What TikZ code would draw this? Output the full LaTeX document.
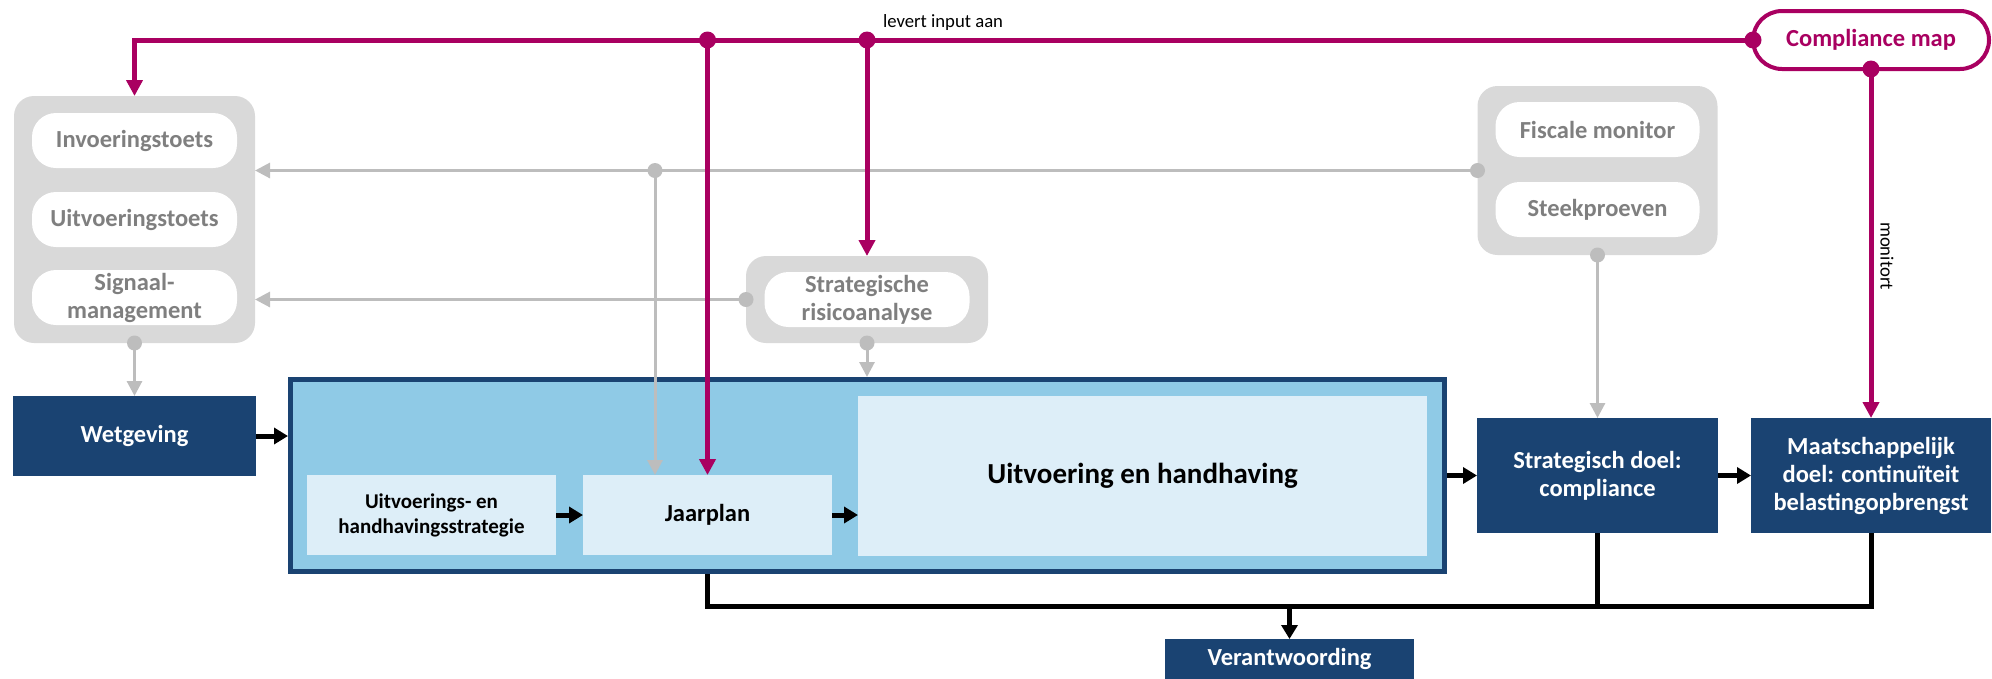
\documentclass[tikz,border=0pt]{standalone}
\usepackage{fontspec}
\setmainfont{Carlito}
\usetikzlibrary{arrows.meta}
\definecolor{dkblue}{HTML}{1A4372}
\definecolor{ltblue}{HTML}{8FCAE6}
\definecolor{pale}{HTML}{DDEEF8}
\definecolor{mag}{HTML}{A90061}
\definecolor{gbox}{HTML}{D9D9D9}
\definecolor{gline}{HTML}{BDBDBD}
\definecolor{gtext}{HTML}{7F7F7F}
\begin{document}
\begin{tikzpicture}[x=1pt,y=-1pt,
  base/.style={inner sep=0pt,outer sep=0pt,align=center,font=\bfseries\fontsize{24.5}{28}\selectfont},
  gcont/.style={base,fill=gbox,rounded corners=20pt},
  pill/.style={base,fill=white,rounded corners=24pt,text=gtext,minimum width=205pt,minimum height=55pt},
  dbox/.style={base,fill=dkblue,text=white},
  lbox/.style={base,fill=pale,text=black},
  magl/.style={draw=mag,line width=5pt},
  magarr/.style={magl,-{Triangle[length=16pt,width=16pt]}},
  gl/.style={draw=gline,line width=3pt},
  garr/.style={gl,-{Triangle[length=15pt,width=15pt]}},
  bl/.style={draw=black,line width=5pt},
  barr/.style={bl,-{Triangle[length=14pt,width=16pt]}},
  mdot/.style={fill=mag,draw=none},
  gdot/.style={fill=gline,draw=none},
  lbl/.style={inner sep=0pt,outer sep=0pt,font=\fontsize{18.7}{22}\selectfont,text=black}
]
\useasboundingbox (0,0) rectangle (1992,678);

% grey containers
\node[gcont,minimum width=241pt,minimum height=247pt] (lc) at (134.5,219.5) {};
\node[pill] (p1) at (134.5,140.5) {Invoeringstoets};
\node[pill] (p2) at (134.5,219.5) {Uitvoeringstoets};
\node[pill] (p3) at (134.5,297.5) {Signaal-\\management};

\node[gcont,minimum width=242pt,minimum height=87pt] (sc) at (867,299.5) {};
\node[pill] (sp) at (867,299.5) {Strategische\\risicoanalyse};

\node[gcont,minimum width=240pt,minimum height=169pt] (fc) at (1597.5,170.5) {};
\node[pill,minimum width=204pt] (fp1) at (1597.5,129.5) {Fiscale monitor};
\node[pill,minimum width=204pt] (fp2) at (1597.5,209.5) {Steekproeven};

% compliance map
\node[base,draw=mag,line width=4pt,fill=white,rounded corners=29pt,text=mag,
      minimum width=236pt,minimum height=58pt] (cm) at (1871,40) {Compliance map};

% dark boxes
\node[dbox,minimum width=243pt,minimum height=80pt] (wet) at (134.5,436) {Wetgeving};
\node[dbox,minimum width=241pt,minimum height=115pt] (sd) at (1597.5,475.5) {Strategisch doel:\\compliance};
\node[dbox,minimum width=240pt,minimum height=115pt] (md) at (1871,475.5) {Maatschappelijk\\doel: continuïteit\\belastingopbrengst};
\node[dbox,minimum width=249pt,minimum height=40pt] (ver) at (1289.5,659) {Verantwoording};

% main container
\node[base,draw=dkblue,fill=ltblue,line width=5pt,outer sep=2.5pt,
      minimum width=1154pt,minimum height=192pt] (cont) at (867.5,475.5) {};
\node[lbox,minimum width=249pt,minimum height=80pt,font=\bfseries\fontsize{21}{25}\selectfont] (uhs) at (431.5,515) {Uitvoerings- en\\handhavingsstrategie};
\node[lbox,minimum width=249pt,minimum height=80pt] (jaar) at (707.5,515) {Jaarplan};
\node[lbox,minimum width=569pt,minimum height=160pt,font=\bfseries\fontsize{29}{34}\selectfont] (uh) at (1142.5,476) {Uitvoering en handhaving};

% helper coordinates
\coordinate (jg) at (655,170.5);
\coordinate (d1) at (jaar.north |- cm.west);
\coordinate (d2) at (sc.north |- cm.west);
\coordinate (busL) at (707.5,606);
\coordinate (busR) at (md.south |- busL);

% grey connectors
\draw[garr] (fc.west) -- (lc.east |- fc.west);
\draw[garr] (jg) -- (jg |- jaar.north);
\draw[garr] (sc.west) -- (lc.east |- sc.west);
\draw[garr] (lc.south) -- (wet.north);
\draw[garr] (sc.south) -- (sc.south |- cont.north);
\draw[garr] (fc.south) -- (sd.north);
\foreach \p in {fc.west,jg,sc.west,lc.south,sc.south,fc.south}
  \fill[gdot] (\p) circle (7.5pt);

% magenta connectors
\draw[magl,-{Triangle[length=16pt,width=16pt]}] (cm.west) -| (lc.north);
\draw[magarr] (d1) -- (jaar.north);
\draw[magarr] (d2) -- (sc.north);
\draw[magarr] (cm.south) -- (md.north);
\foreach \p in {d1,d2,cm.west,cm.south}
  \fill[mdot] (\p) circle (8.5pt);
\node[lbl,anchor=west] (lia) at (883,23) {levert input aan};
\node[lbl,rotate=-90] (mon) at (1887,256) {monitort};

% black connectors
\draw[barr] (wet.east) -- (wet.east -| cont.west);
\draw[barr] (uhs.east) -- (jaar.west);
\draw[barr] (jaar.east) -- (jaar.east -| uh.west);
\draw[barr] (cont.east) -- (sd.west);
\draw[barr] (sd.east) -- (md.west);
\draw[bl,line join=miter] (jaar.south |- cont.south) -- (busL) -- (busR) -- (md.south);
\draw[bl] (sd.south) -- (sd.south |- busL);
\draw[barr] (ver.north |- busL) -- (ver.north);
\end{tikzpicture}
\end{document}
